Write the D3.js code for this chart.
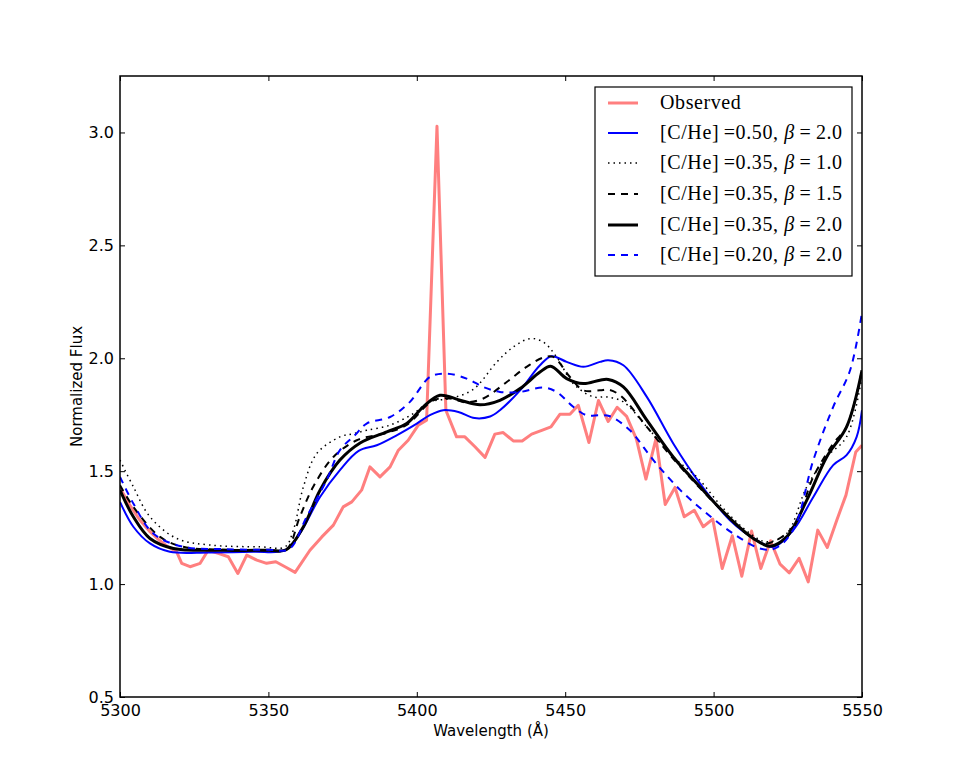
<!DOCTYPE html>
<html>
<head>
<meta charset="utf-8">
<script src="https://cdn.jsdelivr.net/npm/d3@7"></script>
<style>
  body { margin: 0; background: #fff; }
  svg text { font-family: "DejaVu Sans", sans-serif; }
</style>
</head>
<body>
<div id="chart"></div>
<script>
// observed spectrum (wavelength, flux)
const obsWave = [5300.0, 5303.3, 5306.6, 5309.9, 5313.2, 5316.2, 5319.1, 5320.8, 5323.6, 5327.0,
  5329.7, 5333.1, 5336.5, 5339.7, 5342.7, 5346.1, 5349.4, 5352.5, 5355.6, 5359.0,
  5364.0, 5368.0, 5371.9, 5375.2, 5378.1, 5381.4, 5384.2, 5387.6, 5391.0, 5393.8,
  5397.1, 5400.5, 5403.3, 5406.8, 5409.8, 5413.4, 5416.2, 5419.6, 5423.0, 5426.3,
  5429.1, 5432.5, 5435.5, 5438.7, 5442.1, 5445.2, 5448.2, 5451.6, 5454.4, 5458.0,
  5461.2, 5464.5, 5467.5, 5470.7, 5474.0, 5477.2, 5480.6, 5483.7, 5487.0, 5490.1,
  5493.5, 5496.5, 5499.7, 5502.9, 5506.3, 5509.5, 5512.8, 5515.9, 5519.2, 5522.4,
  5525.5, 5528.8, 5531.9, 5535.1, 5538.3, 5541.5, 5544.6, 5547.9, 5550.0];
const obsFlux = [1.425, 1.35, 1.285, 1.235, 1.195, 1.165, 1.143, 1.092, 1.077, 1.092,
  1.150, 1.136, 1.121, 1.047, 1.128, 1.106, 1.092, 1.099, 1.077, 1.052,
  1.150, 1.209, 1.261, 1.342, 1.364, 1.416, 1.519, 1.475, 1.519, 1.593,
  1.637, 1.704, 1.726, 3.027, 1.770, 1.652, 1.652, 1.608, 1.561, 1.664,
  1.671, 1.634, 1.634, 1.664, 1.681, 1.696, 1.752, 1.752, 1.792, 1.627,
  1.813, 1.720, 1.783, 1.743, 1.642, 1.465, 1.644, 1.352, 1.428, 1.298,
  1.327, 1.254, 1.288, 1.069, 1.214, 1.035, 1.235, 1.069, 1.192, 1.088,
  1.050, 1.114, 1.010, 1.239, 1.162, 1.283, 1.394, 1.585, 1.615];

// model spectra
const c50b20Wave = [5300, 5304.5, 5310.1, 5316.8, 5330, 5345, 5355.6, 5360.6, 5367.4, 5374.1,
  5380.4, 5386.5, 5393.2, 5400.0, 5404.4, 5408.9, 5414, 5419.5, 5424.7, 5428.0,
  5434.8, 5441.5, 5445.4, 5450.5, 5456.1, 5461.7, 5464.5, 5469.6, 5477.5, 5486.4,
  5495.4, 5505.5, 5514.5, 5520.1, 5526.8, 5533.6, 5540.3, 5544.8, 5548.2, 5550];
const c50b20Flux = [1.364, 1.254, 1.180, 1.143, 1.140, 1.143, 1.150, 1.224, 1.386, 1.505,
  1.590, 1.615, 1.659, 1.711, 1.748, 1.770, 1.762, 1.735, 1.742, 1.770,
  1.858, 1.969, 2.009, 1.984, 1.962, 1.984, 1.991, 1.969, 1.829, 1.623,
  1.446, 1.283, 1.195, 1.165, 1.239, 1.386, 1.527, 1.571, 1.652, 1.770];

const c35b10Wave = [5300, 5304.5, 5310.1, 5319.1, 5330.3, 5347.2, 5355.6, 5358.4, 5361.8, 5366.3,
  5374.1, 5378.6, 5383.1, 5391.0, 5398.8, 5404.4, 5411.2, 5419.0, 5427.0, 5432.5,
  5438.1, 5442.6, 5447.1, 5452.7, 5459.5, 5464.0, 5469.6, 5477.5, 5486.4, 5494.3,
  5503.3, 5512.3, 5517.9, 5524.6, 5531.4, 5538.1, 5544.8, 5550];
const c35b10Flux = [1.549, 1.431, 1.298, 1.202, 1.173, 1.165, 1.165, 1.239, 1.431, 1.578,
  1.652, 1.666, 1.681, 1.704, 1.755, 1.807, 1.822, 1.862, 1.984, 2.050,
  2.087, 2.072, 2.006, 1.888, 1.829, 1.829, 1.807, 1.696, 1.563, 1.475,
  1.335, 1.224, 1.187, 1.224, 1.431, 1.563, 1.652, 1.920];

const c35b15Wave = [5300, 5304.5, 5313.5, 5321.3, 5335, 5350, 5356, 5360.6, 5365.1, 5371.9,
  5379.8, 5389.9, 5396.6, 5405.6, 5411.2, 5416.5, 5422.4, 5430.3, 5437.0, 5442.6,
  5446.0, 5451.6, 5456.1, 5461.7, 5464.5, 5468.5, 5477.5, 5486.4, 5495.4, 5505.5,
  5512.5, 5517.9, 5526.8, 5533.6, 5540.3, 5544.8, 5550];
const c35b15Flux = [1.438, 1.342, 1.209, 1.165, 1.152, 1.150, 1.152, 1.298, 1.431, 1.563,
  1.637, 1.670, 1.705, 1.814, 1.822, 1.805, 1.822, 1.895, 1.962, 2.003,
  2.006, 1.917, 1.858, 1.858, 1.861, 1.836, 1.696, 1.555, 1.425, 1.290,
  1.210, 1.180, 1.254, 1.475, 1.622, 1.696, 1.947];

const c35b20Wave = [5300, 5304.5, 5310.1, 5318.0, 5335, 5350, 5356, 5361.8, 5367.4, 5374.1,
  5380.9, 5389.9, 5396.6, 5402.2, 5407.8, 5414.6, 5421.3, 5428.0, 5434.8, 5441.5,
  5445.1, 5450.5, 5456.1, 5461.7, 5464.5, 5469.6, 5477.5, 5486.4, 5495.4, 5505.5,
  5513.4, 5519.0, 5524.6, 5531.4, 5538.1, 5544.8, 5550];
const c35b20Flux = [1.416, 1.298, 1.202, 1.158, 1.150, 1.150, 1.152, 1.254, 1.416, 1.549,
  1.625, 1.674, 1.711, 1.785, 1.836, 1.814, 1.794, 1.814, 1.866, 1.939,
  1.965, 1.910, 1.888, 1.903, 1.906, 1.873, 1.726, 1.563, 1.431, 1.291,
  1.202, 1.168, 1.209, 1.372, 1.563, 1.696, 1.947];

const c20b20Wave = [5300, 5304.5, 5311.2, 5321.3, 5335, 5350, 5357, 5362.9, 5369.6, 5374.1,
  5379.2, 5383.1, 5391.0, 5397.7, 5404.4, 5410.1, 5416.8, 5422.4, 5428.0, 5434.8,
  5442.6, 5447.1, 5452.7, 5457.2, 5461.7, 5465.1, 5471.8, 5479.7, 5488.8, 5497.7,
  5506.6, 5515.6, 5520.7, 5526.8, 5533.6, 5540.3, 5546.0, 5550];
const c20b20Flux = [1.475, 1.357, 1.224, 1.165, 1.155, 1.152, 1.155, 1.298, 1.460, 1.593,
  1.660, 1.711, 1.740, 1.807, 1.917, 1.932, 1.910, 1.873, 1.851, 1.851,
  1.870, 1.851, 1.785, 1.748, 1.748, 1.743, 1.681, 1.549, 1.416, 1.313,
  1.224, 1.158, 1.158, 1.239, 1.549, 1.785, 1.947, 2.204];

const xTicks = [5300, 5350, 5400, 5450, 5500, 5550];
const yTicks = [0.5, 1.0, 1.5, 2.0, 2.5, 3.0];

const W = 958, H = 773;
const margin = { left: 120, right: 96, top: 76, bottom: 76 };
const innerW = W - margin.left - margin.right;
const innerH = H - margin.top - margin.bottom;

const svg = d3.select("#chart").append("svg")
  .attr("width", W).attr("height", H);

const x = d3.scaleLinear().domain([5300, 5550]).range([margin.left, margin.left + innerW]);
const y = d3.scaleLinear().domain([0.5, 3.25]).range([margin.top + innerH, margin.top]);

const plot = svg.append("g");

plot.append("clipPath").attr("id", "clip")
  .append("rect")
  .attr("x", margin.left).attr("y", margin.top)
  .attr("width", innerW).attr("height", innerH);

const zip = (xs, ys) => xs.map((v, i) => [v, ys[i]]);

const series = [
  { label: "Observed", wave: obsWave, flux: obsFlux, color: "#ff7f7f", width: 3, dash: null, curve: d3.curveLinear },
  { label: "0.50|2.0", wave: c50b20Wave, flux: c50b20Flux, color: "#0000ff", width: 2, dash: null, curve: d3.curveCatmullRom },
  { label: "0.35|1.0", wave: c35b10Wave, flux: c35b10Flux, color: "#000", width: 1.5, dash: "1.5,4", curve: d3.curveCatmullRom },
  { label: "0.35|1.5", wave: c35b15Wave, flux: c35b15Flux, color: "#000", width: 2, dash: "7,6", curve: d3.curveCatmullRom },
  { label: "0.35|2.0", wave: c35b20Wave, flux: c35b20Flux, color: "#000", width: 3, dash: null, curve: d3.curveCatmullRom },
  { label: "0.20|2.0", wave: c20b20Wave, flux: c20b20Flux, color: "#0000ff", width: 2, dash: "7,6", curve: d3.curveCatmullRom }
];

const lines = plot.append("g").attr("clip-path", "url(#clip)");
series.forEach(s => {
  const line = d3.line().x(d => x(d[0])).y(d => y(d[1])).curve(s.curve);
  lines.append("path")
    .datum(zip(s.wave, s.flux))
    .attr("d", line)
    .attr("fill", "none")
    .attr("stroke", s.color)
    .attr("stroke-width", s.width)
    .attr("stroke-dasharray", s.dash)
    .attr("stroke-linejoin", "round");
});

// axes, ticks pointing inward on all four sides
const tickLen = 5;
const xb = d3.axisBottom(x).tickValues(xTicks).tickFormat(d3.format("d")).tickSizeInner(-tickLen).tickSizeOuter(0).tickPadding(8);
const xt = d3.axisTop(x).tickValues(xTicks).tickFormat("").tickSizeInner(-tickLen).tickSizeOuter(0);
const yl = d3.axisLeft(y).tickValues(yTicks).tickFormat(d3.format(".1f")).tickSizeInner(-tickLen).tickSizeOuter(0).tickPadding(6);
const yr = d3.axisRight(y).tickValues(yTicks).tickFormat("").tickSizeInner(-tickLen).tickSizeOuter(0);

const gx = svg.append("g").attr("transform", `translate(0,${margin.top + innerH})`).call(xb);
svg.append("g").attr("transform", `translate(0,${margin.top})`).call(xt);
const gy = svg.append("g").attr("transform", `translate(${margin.left},0)`).call(yl);
svg.append("g").attr("transform", `translate(${margin.left + innerW},0)`).call(yr);

svg.selectAll(".domain").remove();
svg.selectAll(".tick line").attr("stroke", "#000").attr("stroke-width", 1);
gx.selectAll("text").attr("font-size", 16).attr("fill", "#000");
gy.selectAll("text").attr("font-size", 16).attr("fill", "#000");

svg.append("rect")
  .attr("x", margin.left).attr("y", margin.top)
  .attr("width", innerW).attr("height", innerH)
  .attr("fill", "none").attr("stroke", "#000").attr("stroke-width", 1.5);

svg.append("text")
  .attr("x", margin.left + innerW / 2).attr("y", 736)
  .attr("text-anchor", "middle").attr("font-size", 15)
  .text("Wavelength (Å)");

svg.append("text")
  .attr("transform", `translate(82,${margin.top + innerH / 2}) rotate(-90)`)
  .attr("text-anchor", "middle").attr("font-size", 15)
  .text("Normalized Flux");

// legend
const leg = svg.append("g").attr("transform", "translate(595,87)");
leg.append("rect")
  .attr("width", 257).attr("height", 189)
  .attr("fill", "#fff").attr("stroke", "#000").attr("stroke-width", 1.2);

const rowY = [16, 46, 76, 107, 138, 168];
series.forEach((s, i) => {
  const row = leg.append("g").attr("transform", `translate(0,${rowY[i]})`);
  row.append("line")
    .attr("x1", 13).attr("x2", 43)
    .attr("stroke", s.color).attr("stroke-width", s.width)
    .attr("stroke-dasharray", s.dash);
  const t = row.append("text")
    .attr("x", 65).attr("y", 6)
    .style("font-family", "'Liberation Serif', 'DejaVu Serif', serif")
    .style("letter-spacing", "0.6px")
    .attr("font-size", 20);
  if (s.label === "Observed") {
    t.text("Observed");
  } else {
    const [c, b] = s.label.split("|");
    t.append("tspan").text(`[C/He]\u2009=${c}, `);
    t.append("tspan").attr("font-style", "italic").text("β");
    t.append("tspan").text(`\u2009=\u2009${b}`);
  }
});
</script>
</body>
</html>
